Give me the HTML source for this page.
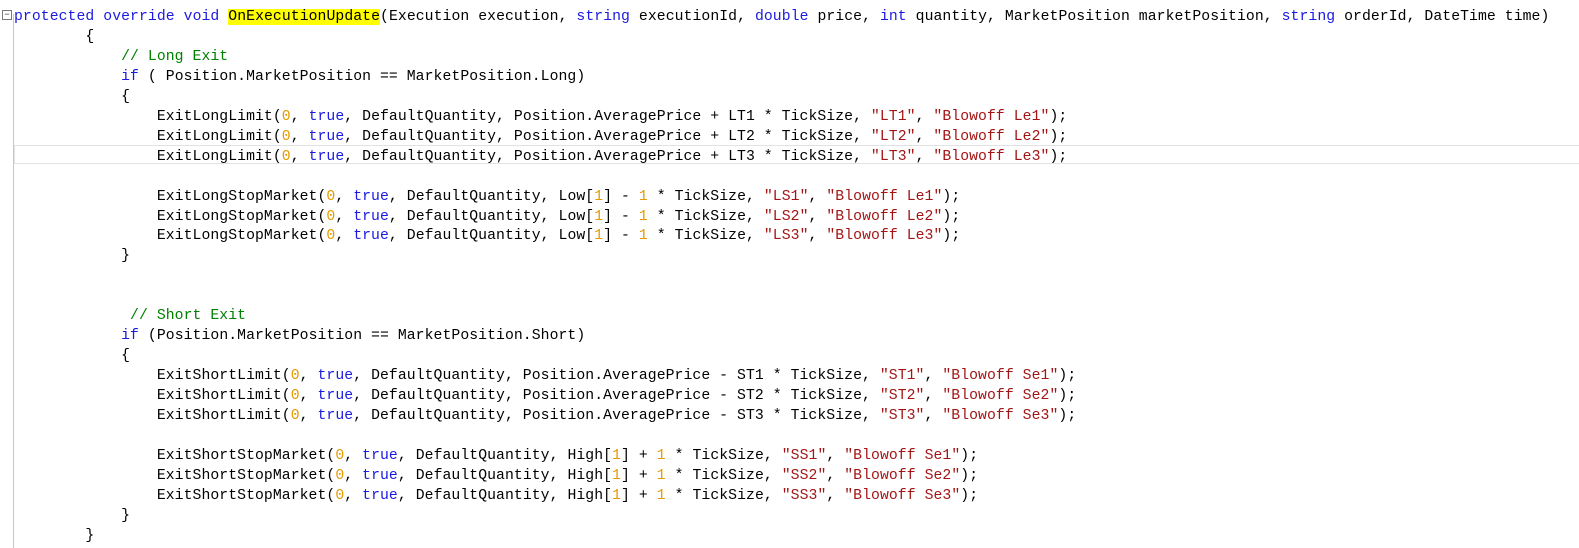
<!DOCTYPE html>
<html><head><meta charset="utf-8"><style>
html,body{margin:0;padding:0;background:#fff;width:1579px;height:548px;overflow:hidden;position:relative}
pre{position:absolute;left:14px;top:8px;margin:0;font-family:"Liberation Mono",monospace;font-size:14.77px;letter-spacing:0.065px;line-height:19.95px;color:#000;white-space:pre}
pre span{line-height:inherit}
.k{color:#1a1ae0}.s{color:#a31515}.n{color:#e59a00}.c{color:#008000}.h{background:#ffff00}
.vl{position:absolute;left:13px;top:14px;width:1px;height:534px;background:#c8c8c8}
.cur{position:absolute;left:14px;top:145px;width:1570px;height:17px;border:1px solid #e2e2e2}
.fold{position:absolute;left:2px;top:10px;width:8px;height:8px;border:1px solid #777;font:9px/8px "Liberation Mono";text-align:center;color:#333}
</style></head><body>
<div class="vl"></div>
<div class="cur"></div>
<div class="fold">−</div>
<pre><span class="k">protected</span> <span class="k">override</span> <span class="k">void</span> <span class="h">OnExecutionUpdate</span>(Execution execution, <span class="k">string</span> executionId, <span class="k">double</span> price, <span class="k">int</span> quantity, MarketPosition marketPosition, <span class="k">string</span> orderId, DateTime time)
        {
            <span class="c">// Long Exit</span>
            <span class="k">if</span> ( Position.MarketPosition == MarketPosition.Long)
            {
                ExitLongLimit(<span class="n">0</span>, <span class="k">true</span>, DefaultQuantity, Position.AveragePrice + LT1 * TickSize, <span class="s">"LT1"</span>, <span class="s">"Blowoff Le1"</span>);
                ExitLongLimit(<span class="n">0</span>, <span class="k">true</span>, DefaultQuantity, Position.AveragePrice + LT2 * TickSize, <span class="s">"LT2"</span>, <span class="s">"Blowoff Le2"</span>);
                ExitLongLimit(<span class="n">0</span>, <span class="k">true</span>, DefaultQuantity, Position.AveragePrice + LT3 * TickSize, <span class="s">"LT3"</span>, <span class="s">"Blowoff Le3"</span>);

                ExitLongStopMarket(<span class="n">0</span>, <span class="k">true</span>, DefaultQuantity, Low[<span class="n">1</span>] - <span class="n">1</span> * TickSize, <span class="s">"LS1"</span>, <span class="s">"Blowoff Le1"</span>);
                ExitLongStopMarket(<span class="n">0</span>, <span class="k">true</span>, DefaultQuantity, Low[<span class="n">1</span>] - <span class="n">1</span> * TickSize, <span class="s">"LS2"</span>, <span class="s">"Blowoff Le2"</span>);
                ExitLongStopMarket(<span class="n">0</span>, <span class="k">true</span>, DefaultQuantity, Low[<span class="n">1</span>] - <span class="n">1</span> * TickSize, <span class="s">"LS3"</span>, <span class="s">"Blowoff Le3"</span>);
            }


             <span class="c">// Short Exit</span>
            <span class="k">if</span> (Position.MarketPosition == MarketPosition.Short)
            {
                ExitShortLimit(<span class="n">0</span>, <span class="k">true</span>, DefaultQuantity, Position.AveragePrice - ST1 * TickSize, <span class="s">"ST1"</span>, <span class="s">"Blowoff Se1"</span>);
                ExitShortLimit(<span class="n">0</span>, <span class="k">true</span>, DefaultQuantity, Position.AveragePrice - ST2 * TickSize, <span class="s">"ST2"</span>, <span class="s">"Blowoff Se2"</span>);
                ExitShortLimit(<span class="n">0</span>, <span class="k">true</span>, DefaultQuantity, Position.AveragePrice - ST3 * TickSize, <span class="s">"ST3"</span>, <span class="s">"Blowoff Se3"</span>);

                ExitShortStopMarket(<span class="n">0</span>, <span class="k">true</span>, DefaultQuantity, High[<span class="n">1</span>] + <span class="n">1</span> * TickSize, <span class="s">"SS1"</span>, <span class="s">"Blowoff Se1"</span>);
                ExitShortStopMarket(<span class="n">0</span>, <span class="k">true</span>, DefaultQuantity, High[<span class="n">1</span>] + <span class="n">1</span> * TickSize, <span class="s">"SS2"</span>, <span class="s">"Blowoff Se2"</span>);
                ExitShortStopMarket(<span class="n">0</span>, <span class="k">true</span>, DefaultQuantity, High[<span class="n">1</span>] + <span class="n">1</span> * TickSize, <span class="s">"SS3"</span>, <span class="s">"Blowoff Se3"</span>);
            }
        }</pre>
</body></html>
